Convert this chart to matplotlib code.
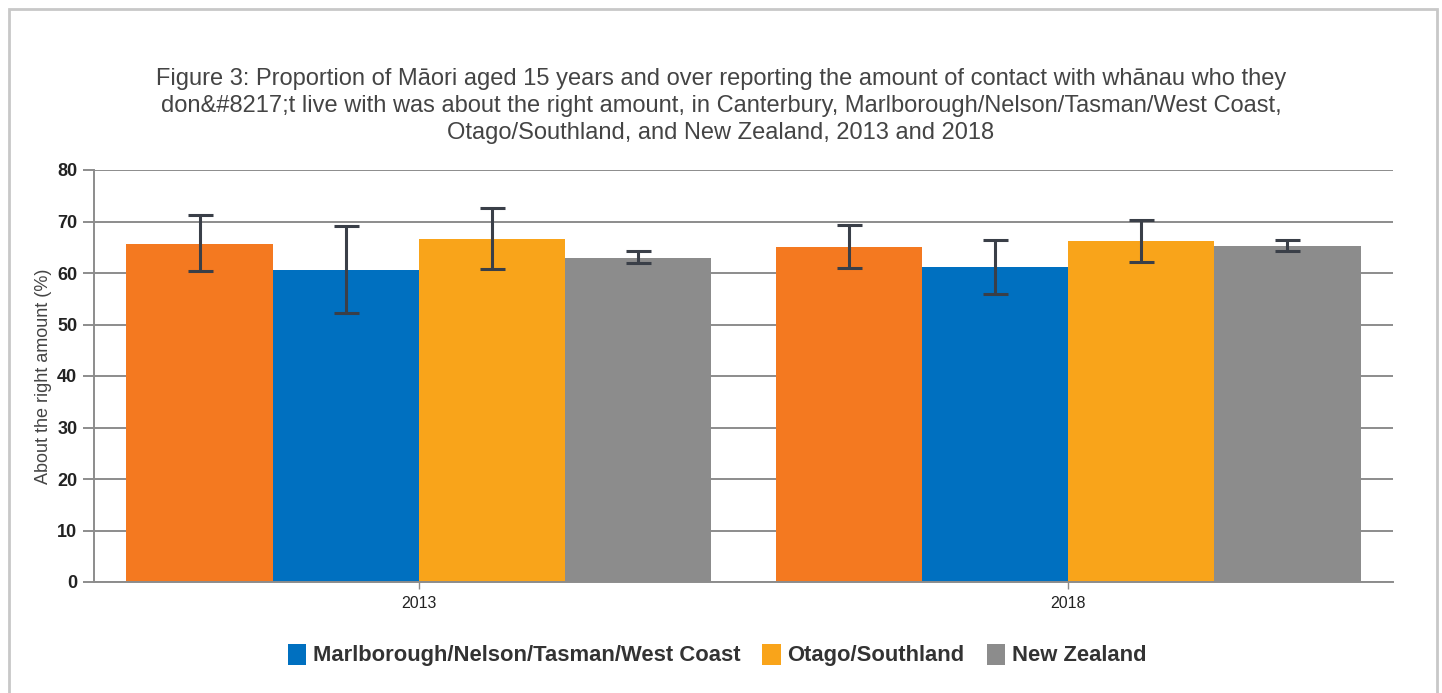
import numpy as np
import matplotlib.pyplot as plt
from matplotlib.patches import Rectangle

years = ["2013", "2018"]
series = ["Canterbury", "Marlborough/Nelson/Tasman/West Coast", "Otago/Southland", "New Zealand"]
values = {
    "Canterbury": [65.7, 65.0],
    "Marlborough/Nelson/Tasman/West Coast": [60.6, 61.2],
    "Otago/Southland": [66.6, 66.2],
    "New Zealand": [62.9, 65.2],
}
err_low = {
    "Canterbury": [60.3, 60.9],
    "Marlborough/Nelson/Tasman/West Coast": [52.2, 56.0],
    "Otago/Southland": [60.7, 62.1],
    "New Zealand": [61.9, 64.2],
}
err_high = {
    "Canterbury": [71.3, 69.3],
    "Marlborough/Nelson/Tasman/West Coast": [69.1, 66.5],
    "Otago/Southland": [72.6, 70.3],
    "New Zealand": [64.2, 66.4],
}
colors = ["#F47920", "#0070C0", "#F9A41A", "#8C8C8C"]
# legend in the source leaves out Canterbury
in_legend = [False, True, True, True]

plt.rcParams["font.family"] = ["Liberation Sans", "DejaVu Sans"]

fig = plt.figure(figsize=(14.42, 6.93), dpi=100)
ax = fig.add_axes([94 / 1442, 1 - 582 / 693, (1393 - 94) / 1442, 412 / 693])

# outer frame
fig.patches.append(Rectangle((9 / 1442, -0.05), (1437 - 9) / 1442, 1.05 - 9 / 693,
                             transform=fig.transFigure, fill=False,
                             edgecolor="#c8c8c8", linewidth=2))

x = np.arange(len(years))
width = 0.225
for i, s in enumerate(series):
    pos = x + (i - 1.5) * width
    vals = np.array(values[s])
    yerr = [vals - np.array(err_low[s]), np.array(err_high[s]) - vals]
    ax.bar(pos, vals, width, color=colors[i], zorder=2,
           label=s if in_legend[i] else "_nolegend_")
    ax.errorbar(pos, vals, yerr=yerr, fmt="none", ecolor="#3a3f48",
                elinewidth=2.2, capsize=9, capthick=2.2, zorder=3)

ax.set_xlim(-0.5, 1.5)
ax.set_ylim(0, 80)
ax.set_yticks(range(0, 81, 10))
ax.set_xticks(x)
ax.set_xticklabels(years, fontsize=11.5, color="#222222")
for lab in ax.get_yticklabels():
    lab.set_fontsize(13)
    lab.set_fontweight("bold")
    lab.set_color("#222222")
ax.yaxis.grid(True, color="#8c8c8c", linewidth=1.4, zorder=0)
ax.set_axisbelow(True)
for sp in ["top", "right"]:
    ax.spines[sp].set_visible(False)
ax.spines["left"].set_color("#8c8c8c")
ax.spines["left"].set_linewidth(1.4)
ax.spines["bottom"].set_color("#8c8c8c")
ax.spines["bottom"].set_linewidth(1.4)
ax.tick_params(axis="y", length=8, width=1.4, color="#8c8c8c", pad=4)
ax.tick_params(axis="x", length=5, width=1, color="#8c8c8c", pad=5)
ax.set_ylabel("About the right amount (%)", fontsize=13, color="#444444", labelpad=4)

fig.text(0.5, 1 - 106 / 693,
         "Figure 3: Proportion of Māori aged 15 years and over reporting the amount of contact with whānau who they\n"
         "don&#8217;t live with was about the right amount, in Canterbury, Marlborough/Nelson/Tasman/West Coast,\n"
         "Otago/Southland, and New Zealand, 2013 and 2018",
         ha="center", va="center", fontsize=17, color="#444444", linespacing=1.32)

leg = ax.legend(loc="center", bbox_to_anchor=(717 / 1442, 1 - 655 / 693),
                bbox_transform=fig.transFigure, ncol=3, frameon=False,
                prop={"size": 15.8, "weight": "bold"},
                handlelength=0.85, handleheight=1.1, handletextpad=0.3, columnspacing=1.0)
for t in leg.get_texts():
    t.set_color("#333333")

fig.savefig("out.png", dpi=100)
